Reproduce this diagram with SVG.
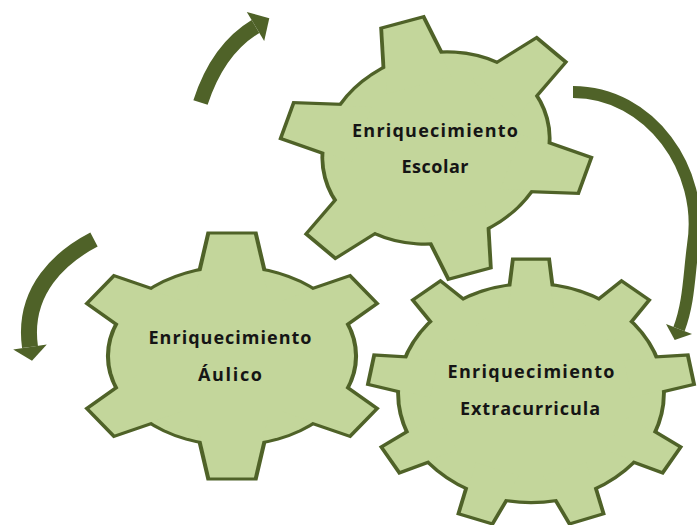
<svg xmlns="http://www.w3.org/2000/svg" xmlns:xlink="http://www.w3.org/1999/xlink" width="697" height="525" viewBox="0 0 697 525">
<style>
.edge{fill:#4f6228;stroke:#4f6228;stroke-linejoin:miter}
.face{fill:#c3d69b;stroke:none}
.lbl{font-family:"Open Sans","Liberation Sans",sans-serif;font-weight:700;font-size:18px;fill:#151515;text-anchor:middle}
.arc{fill:none;stroke:#4f6228;stroke-linecap:butt}
.head{fill:#4f6228;stroke:none}
</style>
<defs>
<polygon id="t6" points="-0.2955,-0.7 -0.18,-1.38 0.18,-1.38 0.2955,-0.7"/>
<polygon id="t6s" points="-0.28,-0.7 -0.18,-1.3 0.18,-1.3 0.28,-0.7"/>
<g id="gear6">
<circle r="1"/>
<use href="#t6"/>
<use href="#t6" transform="rotate(60)"/>
<use href="#t6" transform="rotate(120)"/>
<use href="#t6" transform="rotate(180)"/>
<use href="#t6" transform="rotate(240)"/>
<use href="#t6" transform="rotate(300)"/>
</g>
<g id="gear6b">
<circle r="1"/>
<use href="#t6"/>
<use href="#t6s" transform="rotate(55)"/>
<use href="#t6s" transform="rotate(125)"/>
<use href="#t6" transform="rotate(180)"/>
<use href="#t6s" transform="rotate(235)"/>
<use href="#t6s" transform="rotate(305)"/>
</g>
<polygon id="t9" points="-0.175,-0.75 -0.125,-1.225 0.125,-1.225 0.175,-0.75"/>
<g id="gear9">
<circle r="1"/>
<use href="#t9"/>
<use href="#t9" transform="rotate(40)"/>
<use href="#t9" transform="rotate(80)"/>
<use href="#t9" transform="rotate(120)"/>
<use href="#t9" transform="rotate(160)"/>
<use href="#t9" transform="rotate(200)"/>
<use href="#t9" transform="rotate(240)"/>
<use href="#t9" transform="rotate(280)"/>
<use href="#t9" transform="rotate(320)"/>
</g>
</defs>
<rect width="697" height="525" fill="#ffffff"/>
<g id="gear-extracurricula">
<g transform="translate(531,393) scale(131,108)">
<use href="#gear9" class="edge" stroke-width="0.059"/>
<use href="#gear9" class="face"/>
</g>
<text class="lbl" x="531" y="378" textLength="167" lengthAdjust="spacing">Enriquecimiento</text>
<text class="lbl" x="530" y="415" textLength="140" lengthAdjust="spacing">Extracurricula</text>
</g>
<g id="gear-aulico">
<g transform="translate(232,356) scale(122,88)">
<use href="#gear6b" class="edge" stroke-width="0.067"/>
<use href="#gear6b" class="face"/>
</g>
<text class="lbl" x="230" y="344" textLength="163" lengthAdjust="spacing">Enriquecimiento</text>
<text class="lbl" x="230" y="381" textLength="64" lengthAdjust="spacing">Áulico</text>
</g>
<g id="gear-escolar">
<g transform="translate(436,148) rotate(-15) scale(113,93)">
<use href="#gear6" class="edge" stroke-width="0.068"/>
<use href="#gear6" class="face"/>
</g>
<text class="lbl" x="435" y="137" textLength="166" lengthAdjust="spacing">Enriquecimiento</text>
<text class="lbl" x="435" y="173" textLength="67" lengthAdjust="spacing">Escolar</text>
</g>
<g id="connectors">
<path class="arc" stroke-width="15" d="M200.5,102.5 Q218,49 255.5,26.5"/>
<polygon class="head" points="246.8,11.9 269.3,18.3 264.2,41.1"/>
<path class="arc" stroke-width="16" d="M94,239.5 C62,256 22,290 30,347"/>
<polygon class="head" points="46.8,344.5 32,360.8 13.2,349.5"/>
<path class="arc" stroke-width="12" d="M573,92 C650,92 705,170 693,245 C689,275 689,303 679,329"/>
<polygon class="head" points="692,334 674.7,340 666,324"/>
</g>
</svg>
